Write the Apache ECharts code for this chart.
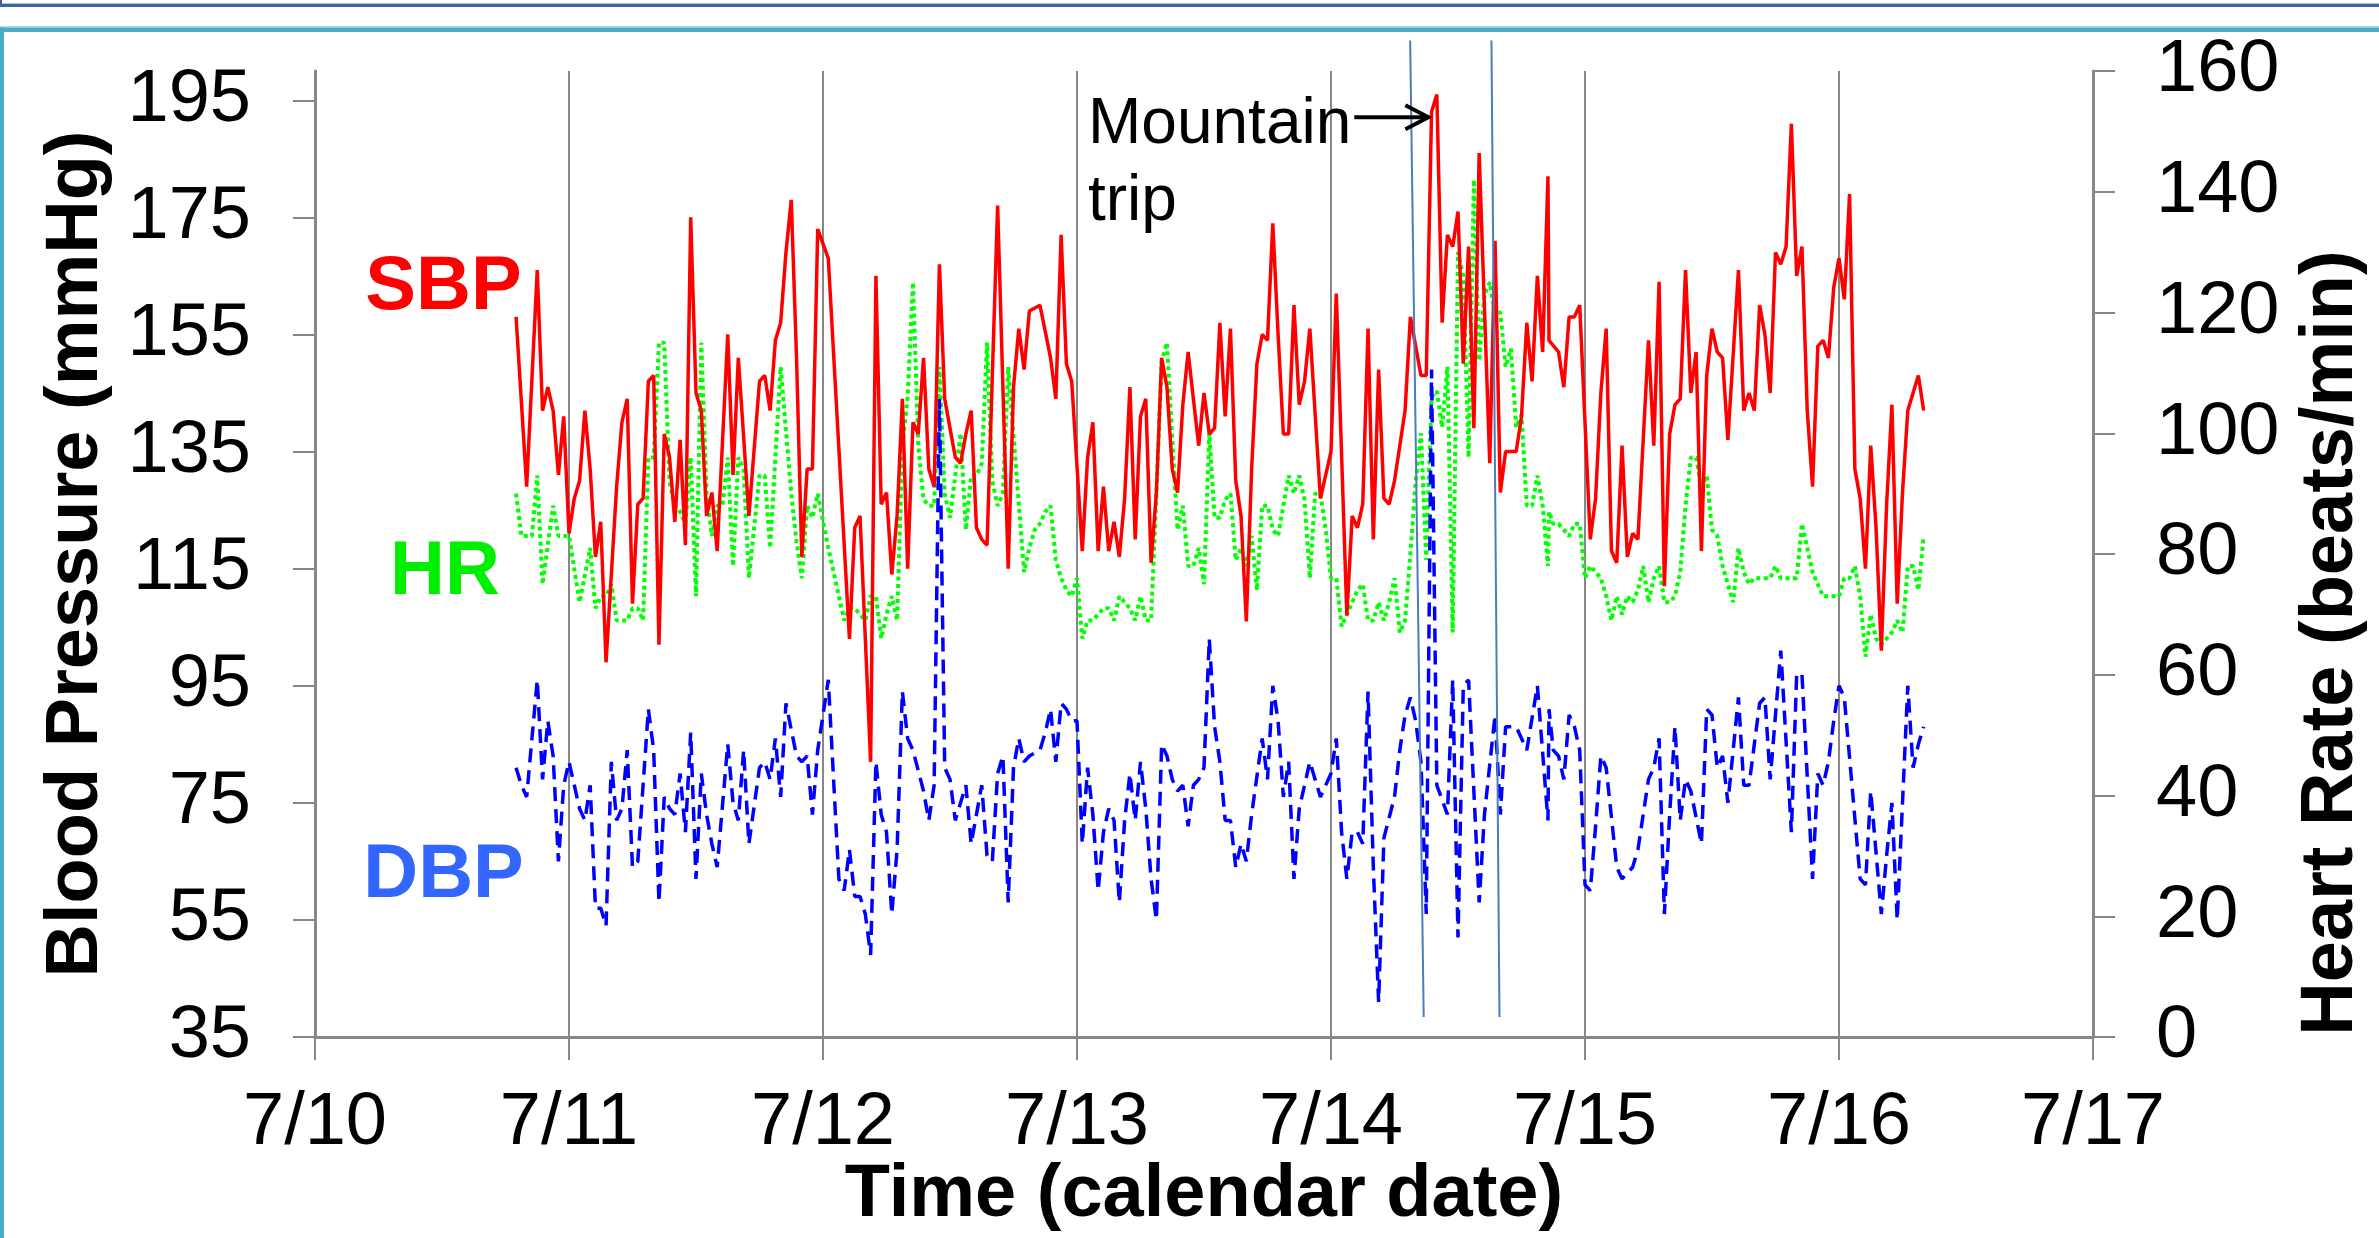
<!DOCTYPE html>
<html><head><meta charset="utf-8">
<script src="https://cdn.jsdelivr.net/npm/echarts@6/dist/echarts.min.js"></script>
<style>html,body{margin:0;padding:0;background:#fff;overflow:hidden}#chart{width:2379px;height:1238px}</style>
</head><body><div id="chart"></div>
<script>
// x values are hours since 7/10 00:00
const dateLabels = ['7/10','7/11','7/12','7/13','7/14','7/15','7/16','7/17'];
const bpTicks = [35,55,75,95,115,135,155,175,195];
const seriesLabels = ['SBP','HR','DBP'];

const sbp = [[19,158],[20,129],[21,166],[21.5,142],[22,146],[22.5,142],[23,131],[23.5,141],[24,121],[24.5,127],[25,130],[25.5,142],[26,132],[26.5,117],[27,123],[27.5,99],[28.5,129],[29,140],[29.5,144],[30,109],[30.5,126],[31,127],[31.5,147],[32,148],[32.5,102],[33,138],[33.5,134],[34,123],[34.5,137],[35,119],[35.5,175],[36,145],[36.5,142],[37,124],[37.5,128],[38,118],[39,155],[39.5,131],[40,151],[41,124],[42,147],[42.5,148],[43,142],[43.5,154],[44,157],[44.5,169],[45,178],[45.5,151],[46,117],[46.5,132],[47,132],[47.5,173],[48.5,168],[50.5,103],[51,122],[51.5,124],[52.5,82],[53,165],[53.5,126],[54,128],[54.5,114],[55,124],[55.5,144],[56,115],[56.5,140],[57,138],[57.5,151],[58,132],[58.5,129],[59,167],[59.5,144],[60,139],[60.5,134],[61,133],[61.5,138],[62,142],[62.5,122],[63,120],[63.5,119],[64.5,177],[65.5,115],[66,146],[66.5,156],[67,149],[67.5,159],[68.5,160],[69.5,151],[70,144],[70.5,172],[71,150],[71.5,147],[72.5,118],[73,134],[73.5,140],[74,118],[74.5,129],[75,118],[75.5,123],[76,117],[76.5,127],[77,146],[77.5,120],[78,141],[78.5,144],[79,116],[79.5,128],[80,151],[80.5,146],[81,132],[81.5,128],[82,143],[82.5,152],[83,144],[83.5,136],[84,145],[84.5,138],[85,139],[85.5,157],[86,141],[86.5,156],[87,130],[87.5,124],[88,106],[88.5,132],[89,150],[89.5,155],[90,154],[90.5,174],[91,155],[91.5,138],[92,138],[92.5,160],[93,143],[93.5,147],[94,156],[95,127],[96,135],[96.5,162],[97.5,107],[98,124],[98.5,122],[99,126],[99.5,156],[100,120],[100.5,149],[101,127],[101.5,126],[102,130],[102.5,136],[103,142],[103.5,158],[104,153],[104.5,148],[105,148],[105.5,193],[106,196],[106.5,157],[107,172],[107.5,170],[108,176],[108.5,150],[109,170],[109.5,139],[110,186],[111,133],[111.5,171],[112,128],[112.5,135],[113.5,135],[114,141],[114.5,157],[115,147],[115.5,165],[116,152],[116.5,182],[116.6,154],[117.5,152],[118,146],[118.5,158],[119,158],[119.5,160],[120.5,120],[121,127],[121.5,145],[122,156],[122.5,118],[123,116],[123.5,136],[124,117],[124.5,121],[125,120],[126,154],[126.5,136],[127,164],[127.5,112],[128,138],[128.5,143],[129,144],[129.5,166],[130,145],[130.5,152],[131,118],[131.5,148],[132,156],[132.5,152],[133,151],[133.5,137],[134.5,166],[135,142],[135.5,145],[136,142],[136.5,160],[137,155],[137.5,145],[138,169],[138.5,167],[139,170],[139.5,191],[140,165],[140.5,170],[141,142],[141.5,129],[142,153],[142.5,154],[143,151],[143.5,163],[144,168],[144.5,161],[145,179],[145.5,132],[146,127],[146.5,115],[147,136],[147.5,122],[148,101],[148.5,126],[149,143],[149.5,109],[150,128],[150.5,142],[151,145],[151.5,148],[152,142]];

const hr = [[19,90],[19.5,83],[20,83],[20.5,83],[21,93],[21.5,75],[22.5,88],[23,83],[23.5,83],[24,83],[25,72],[26,81],[26.5,71],[27,73],[27.5,73],[28,75],[28.5,69],[29,69],[29.5,69],[30,71],[30.5,71],[31,69],[31.5,96],[32,96],[32.5,115],[33,115],[33.5,92],[34,88],[34.5,87],[35,85],[35.5,96],[36,73],[36.5,115],[37,90],[37.5,83],[38,88],[38.5,88],[39,96],[39.5,78],[40,96],[40.5,94],[41,76],[42,93],[42.5,93],[43,81],[44,111],[45,90],[45.5,82],[46,76],[46.5,88],[47,86],[47.5,90],[48.5,81],[49.5,73],[50,69],[50.5,71],[51,71],[51.5,70],[52,69],[52.5,73],[53,73],[53.5,66],[54,70],[54.5,73],[55,69],[55.5,98],[56,106],[56.5,125],[57,98],[57.5,89],[58,88],[58.5,88],[59,111],[59.5,90],[60,86],[60.5,93],[61,100],[61.5,84],[62,93],[62.5,93],[63,95],[63.5,115],[64,92],[64.5,88],[65,90],[65.5,111],[67,77],[67.5,81],[68,84],[68.5,85],[69,87],[69.5,88],[70,79],[70.5,76],[71,74],[71.5,73],[72,76],[72.5,66],[73,69],[73.5,69],[74,70],[74.5,71],[75,71],[75.5,69],[76,73],[76.5,72],[77,71],[77.5,69],[78,73],[78.5,69],[79,69],[79.5,90],[80,112],[80.5,115],[81,99],[81.5,84],[82,88],[82.5,78],[83,78],[83.5,81],[84,75],[84.5,100],[85,86],[85.5,86],[86,89],[86.5,90],[87,79],[87.5,81],[88,78],[88.5,83],[89,74],[89.5,88],[90,88],[90.5,84],[91,83],[92,93],[92.5,90],[93,93],[93.5,89],[94,76],[94.5,90],[95,90],[95.5,84],[96,76],[96.5,76],[97,68],[97.5,70],[98,72],[98.5,74],[99,75],[99.5,69],[100,69],[100.5,72],[101,69],[101.5,72],[102,76],[102.5,67],[103,69],[103.5,80],[104,92],[104.5,100],[105,79],[105.5,106],[106,107],[106.5,101],[107,111],[107.5,67],[108,130],[108.5,126],[109,96],[109.5,142],[110,112],[110.5,123],[111,125],[111.5,120],[112,120],[112.5,111],[113,114],[113.5,101],[114,103],[114.5,88],[115,88],[115.5,93],[116,88],[116.5,78],[116.6,87],[117,85],[117.5,85],[118.5,83],[119,85],[119.5,85],[120,76],[120.5,78],[121,77],[121.5,76],[122,73],[122.5,69],[123,73],[123.5,70],[124,73],[124.5,72],[125,74],[125.5,78],[126,72],[126.5,76],[127,78],[127.5,72],[128,72],[128.5,73],[129,77],[129.5,88],[130,96],[130.5,96],[131,91],[131.5,93],[132,84],[132.5,83],[133,78],[133.5,75],[134,72],[134.5,81],[135,77],[135.5,75],[136,76],[136.5,76],[137,76],[137.5,76],[138,78],[138.5,76],[139,76],[139.5,76],[140,76],[140.5,85],[141,81],[141.5,77],[142,75],[142.5,73],[143,73],[143.5,73],[144,73],[144.5,76],[145,76],[145.5,78],[146,73],[146.5,63],[147,70],[147.5,66],[148,65],[148.5,66],[149,67],[149.5,69],[150,67],[150.5,78],[151,78],[151.5,74],[152,83]];

const dbp = [[19,81],[19.5,78],[20,76],[21,96],[21.5,79],[22,89],[22.5,83],[23,65],[23.5,78],[24,82],[25,74],[25.5,72],[26,78],[26.5,57],[27,57],[27.5,54],[28,82],[28.5,72],[29,74],[29.5,84],[30,64],[30.5,65],[31,78],[31.5,91],[32,84],[32.5,58],[33,76],[33.5,74],[34,73],[34.5,80],[35,70],[35.5,87],[36,62],[36.5,80],[37,73],[37.5,68],[38,64],[39,85],[39.5,75],[40,72],[40.5,84],[41,68],[42,81],[42.5,82],[43,79],[43.5,86],[44,76],[44.5,92],[45.5,83],[46,82],[46.5,83],[47,73],[47.5,84],[48.5,96],[49.5,62],[50,60],[50.5,67],[51,59],[51.5,59],[52,56],[52.5,49],[53,82],[53.5,73],[54,70],[54.5,56],[55,67],[55.5,94],[56,86],[56.5,84],[57.5,77],[58,72],[58.5,78],[59,144],[59.5,81],[60,79],[60.5,72],[61,75],[61.5,78],[62,68],[63,78],[63.5,66],[64,65],[64.5,80],[65,83],[65.5,58],[66,81],[66.5,86],[67,82],[67.5,83],[68.5,84],[69,87],[69.5,91],[70,82],[70.5,92],[71,91],[71.5,89],[72,89],[72.5,68],[73,81],[73.5,73],[74,60],[74.5,70],[75,74],[75.5,72],[76,58],[76.5,72],[77,80],[77.5,72],[78,82],[78.5,74],[79,62],[79.5,55],[80,85],[80.5,83],[81,79],[81.5,77],[82,78],[82.5,71],[83,78],[83.5,79],[84,81],[84.5,103],[85,88],[85.5,82],[86,72],[86.5,72],[87,64],[87.5,68],[88,65],[88.5,73],[89.5,86],[90,79],[90.5,95],[91,89],[91.5,76],[92,82],[92.5,62],[93,74],[93.5,78],[94,82],[94.5,79],[95,76],[96,80],[96.5,86],[97,70],[97.5,62],[98,70],[98.5,70],[99,68],[99.5,94],[100,64],[100.5,41],[101,69],[102,76],[102.5,84],[103,90],[103.5,93],[104,89],[104.5,82],[105,56],[105.5,149],[106,78],[107,73],[107.5,96],[108,52],[108.5,95],[109,96],[110,58],[110.5,73],[111.5,90],[112,73],[112.5,88],[113.5,88],[114.5,84],[115.5,95],[116.5,72],[116.6,91],[117,84],[117.5,83],[118,79],[118.5,90],[119,88],[119.5,84],[120,61],[120.5,60],[121,71],[121.5,83],[122,81],[123,64],[123.5,62],[124,63],[124.5,64],[125,67],[126,79],[126.5,81],[127,86],[127.5,56],[128,73],[128.5,88],[129,72],[129.5,79],[130,77],[131,68],[131.5,91],[132,90],[132.5,81],[133,83],[133.5,75],[134.5,93],[135,78],[135.5,78],[136.5,92],[137,93],[137.5,79],[138.5,101],[139.5,70],[140,97],[140.5,97],[141.5,62],[142,80],[142.5,78],[143,82],[143.5,89],[144,95],[144.5,93],[146,62],[146.5,61],[147,77],[148,56],[148.5,66],[149,75],[149.5,55],[150.5,95],[151,81],[151.5,85],[152,88]];

// annotation geometry in data units (hours, mmHg)
const tripLines = [[[103.48,205.2],[104.76,38.4]],[[111.16,205.2],[111.92,38.4]]];
const tripArrow = [[98.2,192.1],[105.2,192.1]];

const FONT = '"Liberation Sans", Arial, Helvetica, sans-serif';
const GRAY = '#878787';
const chart = echarts.init(document.getElementById('chart'), null, {renderer:'canvas'});

const baseLabel = {fontSize:74, color:'#000', fontFamily:FONT};
const titleStyle = {fontSize:74, fontWeight:'bold', color:'#000', fontFamily:FONT, lineHeight:74};

chart.setOption({
  animation:false,
  backgroundColor:'#ffffff',
  textStyle:{fontFamily:FONT},
  grid:{left:315, right:286, top:71, bottom:201, containLabel:false},
  xAxis:{
    type:'value', min:0, max:168, interval:24,
    axisLine:{show:true, lineStyle:{color:GRAY, width:3}},
    axisTick:{show:true, length:23, lineStyle:{color:GRAY, width:2}},
    axisLabel:Object.assign({margin:50, formatter:v=>dateLabels[Math.round(v/24)]}, baseLabel),
    splitLine:{show:true, lineStyle:{color:GRAY, width:2}},
    name:'Time (calendar date)', nameLocation:'middle', nameGap:122, nameMoveOverlap:false,
    nameTextStyle:titleStyle
  },
  yAxis:[{
    type:'value', min:35, max:200, position:'left',
    axisLine:{show:true, lineStyle:{color:GRAY, width:3}},
    axisTick:{show:true, length:22, customValues:bpTicks, lineStyle:{color:GRAY, width:2}},
    axisLabel:Object.assign({margin:64, customValues:bpTicks}, baseLabel),
    splitLine:{show:false},
    name:'Blood Pressure (mmHg)', nameLocation:'middle', nameGap:201, nameRotate:90, nameMoveOverlap:false,
    nameTextStyle:titleStyle
  },{
    type:'value', min:0, max:160, interval:20, position:'right',
    axisLine:{show:true, lineStyle:{color:GRAY, width:3}},
    axisTick:{show:true, length:22, lineStyle:{color:GRAY, width:2}},
    axisLabel:Object.assign({margin:63}, baseLabel),
    splitLine:{show:false}
  }],
  series:[
    {name:'HR', type:'line', yAxisIndex:1, data:hr, symbol:'none', z:2,
     lineStyle:{color:'#00ff00', width:4, type:[4,3.5]}},
    {name:'DBP', type:'line', yAxisIndex:0, data:dbp, symbol:'none', z:3,
     lineStyle:{color:'#0000ff', width:3.5, type:[14,8]}},
    {name:'SBP', type:'line', yAxisIndex:0, data:sbp, symbol:'none', z:4,
     lineStyle:{color:'#ff0000', width:3.5}}
  ]
});

const toPx = p => chart.convertToPixel({xAxisIndex:0, yAxisIndex:0}, p);
const g = [];
// frame
g.push({type:'rect', shape:{x:0,y:3,width:2379,height:1}, style:{fill:'#a9c0df'}, silent:true});
g.push({type:'rect', shape:{x:0,y:4,width:2379,height:3}, style:{fill:'#3f64a0'}, silent:true});
g.push({type:'rect', shape:{x:0,y:0,width:2,height:7}, style:{fill:'#3f64a0'}, silent:true});
g.push({type:'rect', shape:{x:0,y:26,width:2379,height:1.5}, style:{fill:'#a8dbe9'}, silent:true});
g.push({type:'rect', shape:{x:0,y:27.5,width:2379,height:4.5}, style:{fill:'#4bacc6'}, silent:true});
g.push({type:'rect', shape:{x:0,y:27.5,width:4,height:1211}, style:{fill:'#4bacc6'}, silent:true});
// trip markers
tripLines.forEach(l => {
  const a = toPx(l[0]), b = toPx(l[1]);
  g.push({type:'line', shape:{x1:a[0],y1:a[1],x2:b[0],y2:b[1]}, style:{stroke:'#4a7ebb', lineWidth:2}, z:10});
});
const a0 = toPx(tripArrow[0]), a1 = toPx(tripArrow[1]);
g.push({type:'line', shape:{x1:a0[0],y1:a0[1],x2:a1[0]-2,y2:a1[1]}, style:{stroke:'#000', lineWidth:4}, z:11});
g.push({type:'polyline', shape:{points:[[a1[0]-23,a1[1]-12],[a1[0],a1[1]],[a1[0]-23,a1[1]+12]]}, style:{stroke:'#000', lineWidth:4, fill:null, lineJoin:'miter'}, z:11});
g.push({type:'text', x:1088, y:86.6, z:11, style:{text:'Mountain\ntrip', fontSize:64, fontFamily:FONT, fill:'#000', lineHeight:77, align:'left', verticalAlign:'top'}});
// series labels
const labelColors = ['#ff0000','#00ee00','#3366ff'];
const labelPos = [[443.5,287.7],[445,572.7],[443.5,876]];
seriesLabels.forEach((t,i)=>{
  g.push({type:'text', x:labelPos[i][0], y:labelPos[i][1], z:11, style:{text:t, fontSize:76, fontWeight:'bold', fontFamily:FONT, fill:labelColors[i], align:'center', verticalAlign:'middle'}});
});
// right axis title
g.push({type:'text', x:2332, y:643, rotation:Math.PI/2, z:11, style:{text:'Heart Rate (beats/min)', fontSize:74, fontWeight:'bold', fontFamily:FONT, fill:'#000', align:'center', verticalAlign:'middle'}});
chart.setOption({graphic:g});
</script>
</body></html>
